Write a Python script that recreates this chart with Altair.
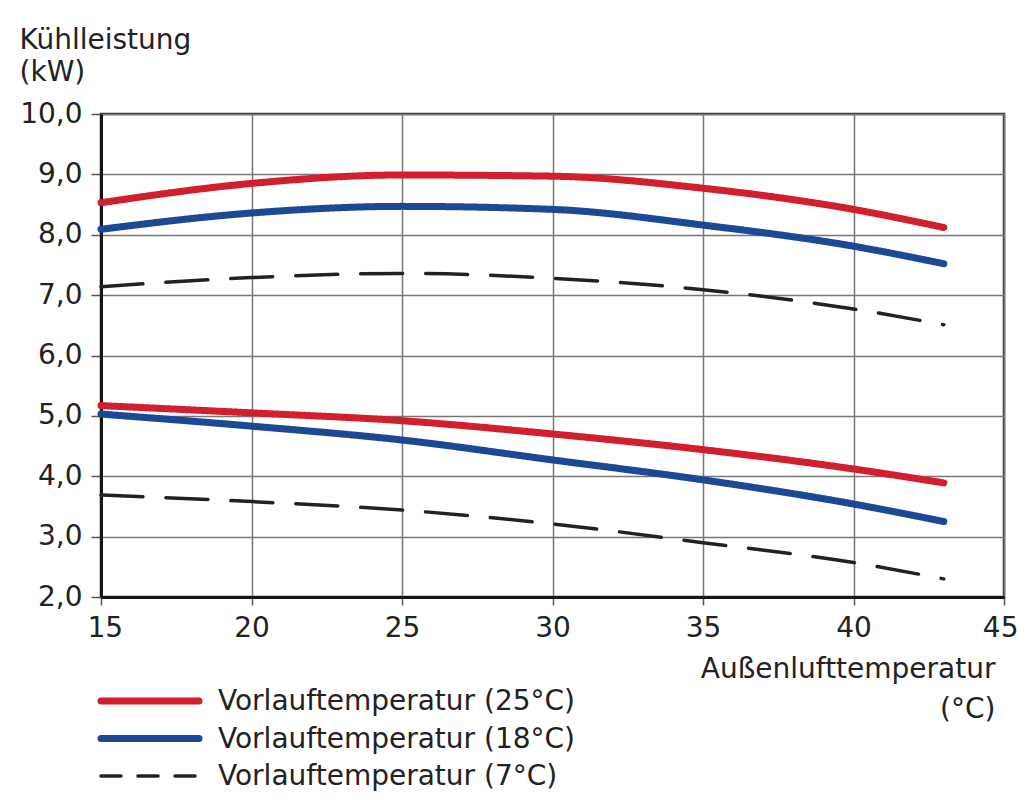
import altair as alt
import pandas as pd

# ---- data ----
temps = [15, 20, 25, 30, 35, 40, 43]
series_names = ["Vorlauftemperatur (25°C)", "Vorlauftemperatur (18°C)", "Vorlauftemperatur (7°C)"]

red_hi = [8.53, 8.85, 8.99, 8.97, 8.77, 8.42, 8.12]
blue_hi = [8.09, 8.36, 8.47, 8.42, 8.16, 7.81, 7.52]
dash_hi = [7.14, 7.29, 7.36, 7.28, 7.09, 6.77, 6.51]
red_lo = [5.17, 5.05, 4.92, 4.70, 4.44, 4.12, 3.89]
blue_lo = [5.03, 4.83, 4.60, 4.27, 3.94, 3.54, 3.25]
dash_lo = [3.69, 3.58, 3.44, 3.21, 2.90, 2.57, 2.30]

x_ticks = [15, 20, 25, 30, 35, 40, 45]
y_ticks = [2, 3, 4, 5, 6, 7, 8, 9, 10]

colors = ["#d31f2d", "#1c4995", "#222222"]
widths = [7, 7, 3.5]

rows = []
for name, curve, vals in [
    (series_names[0], "hi25", red_hi),
    (series_names[1], "hi18", blue_hi),
    (series_names[2], "hi7", dash_hi),
    (series_names[0], "lo25", red_lo),
    (series_names[1], "lo18", blue_lo),
    (series_names[2], "lo7", dash_lo),
]:
    for t, v in zip(temps, vals):
        rows.append({"t": t, "kw": v, "series": name, "curve": curve})
df = pd.DataFrame(rows)
legend_df = pd.DataFrame({"series": series_names})

FONT = "DejaVu Sans"
TXT = "#222222"

color_scale = alt.Scale(domain=series_names, range=colors)
width_scale = alt.Scale(type="ordinal", domain=series_names, range=widths)

lines = alt.Chart(df).mark_line(interpolate="monotone", strokeCap="round").encode(
    x=alt.X("t:Q",
            scale=alt.Scale(domain=[15, 45], nice=False, zero=False),
            axis=alt.Axis(values=x_ticks, format="d",
                          title=["Außenlufttemperatur", "(°C)"],
                          titleAlign="right", titleX=894, titleY=80,
                          titleBaseline="alphabetic", titleLineHeight=40,
                          labelPadding=9, labelFlush=True, labelFlushOffset=14)),
    y=alt.Y("kw:Q",
            scale=alt.Scale(domain=[2, 10], nice=False, zero=False),
            axis=alt.Axis(values=y_ticks,
                          labelExpr="replace(format(datum.value, '.1f'), '.', ',')",
                          title=["Kühlleistung", "(kW)"],
                          titleAngle=0, titleAlign="left", titleX=-82, titleY=-66,
                          titleBaseline="alphabetic", titleLineHeight=32,
                          labelPadding=9, tickSize=10, labelFlush=False)),
    color=alt.Color("series:N", scale=color_scale, legend=None),
    strokeDash=alt.StrokeDash("series:N",
                              scale=alt.Scale(domain=series_names, range=[[1, 0], [1, 0], [42, 23]]),
                              legend=None),
    strokeWidth=alt.StrokeWidth("series:N", scale=width_scale, legend=None),
    detail="curve:N",
)

legend_y = alt.Y("series:N",
                 scale=alt.Scale(type="point", domain=series_names, range=[587, 662], padding=0),
                 axis=None)

legend_rules = alt.Chart(legend_df).mark_rule(strokeCap="round").encode(
    x=alt.value(0),
    x2=alt.value(98),
    y=legend_y,
    color=alt.Color("series:N", scale=color_scale, legend=None),
    strokeDash=alt.StrokeDash("series:N",
                              scale=alt.Scale(domain=series_names, range=[[1, 0], [1, 0], [20, 17]]),
                              legend=None),
    strokeWidth=alt.StrokeWidth("series:N", scale=width_scale, legend=None),
)

legend_text = alt.Chart(legend_df).mark_text(
    align="left", baseline="alphabetic", dy=9, font=FONT, fontSize=28, color=TXT
).encode(
    x=alt.value(117),
    y=legend_y,
    text="series:N",
)

chart = alt.layer(lines, legend_rules, legend_text).resolve_scale(
    y="independent", strokeDash="independent"
).properties(
    width=903, height=483,
    padding={"left": 93, "top": 106, "right": 16, "bottom": 198},
    autosize=alt.AutoSizeParams(type="none"),
    background="white",
).configure_view(
    stroke="#333333", strokeWidth=2.5
).configure_axis(
    grid=True, gridColor="#777777", gridWidth=1.5,
    domainColor="#151515", domainWidth=3,
    tickColor="#555555", tickWidth=1.5, tickSize=8,
    labelFont=FONT, labelFontSize=28, labelColor=TXT,
    titleFont=FONT, titleFontSize=28, titleColor=TXT, titleFontWeight="normal",
    labelOverlap=False,
)

chart.save("out.html", embed_options={"renderer": "svg", "actions": False})
